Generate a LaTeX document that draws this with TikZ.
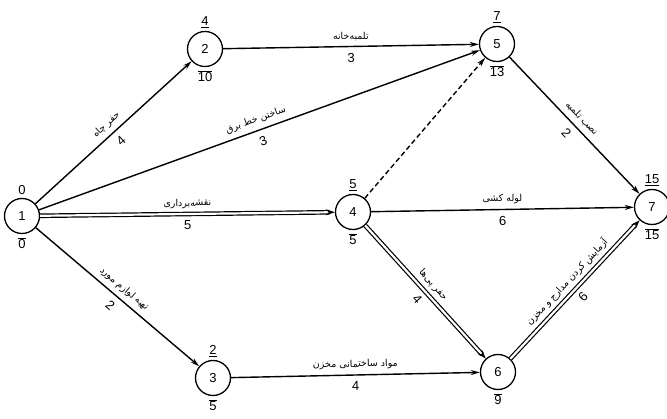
\documentclass[tikz,border=0pt]{standalone}
\usepackage{fontspec}
\setmainfont{Liberation Sans}
\newfontfamily\farsi[Script=Arabic]{DejaVu Sans}
\TeXXeTstate=1
\usetikzlibrary{arrows.meta, positioning}
\newcommand{\fa}[1]{{\farsi\beginR #1\endR}}
\newcommand{\late}[1]{$\overline{\mbox{#1}}$}

\begin{document}
\begin{tikzpicture}[
    x=1pt, y=-1pt,
    font=\fontsize{13}{15}\selectfont,
    event/.style={draw, circle, line width=1.3pt, minimum size=35pt, inner sep=0pt, fill=white},
    ar/.style={-{Stealth[length=9pt, width=5pt]}, line width=1.4pt},
    crit/.style={-{Stealth[length=9pt, width=6pt]}, double, double distance=2.2pt, line width=1.2pt},
    dummy/.style={ar, dash pattern=on 5pt off 3pt},
    act/.style={sloped, above, inner sep=5pt, font=\fontsize{9.5}{11}\selectfont},
    dur/.style={sloped, below, inner sep=6pt},
    tim/.style={inner sep=1pt}
]
\useasboundingbox[fill=white] (0,0) rectangle (667,419);
% events
\node[event] (n1) at (22,216)  {1};
\node[event] (n2) at (205,49)  {2};
\node[event] (n3) at (213,378) {3};
\node[event] (n4) at (353,212) {4};
\node[event] (n5) at (497,44)  {5};
\node[event] (n6) at (498,372) {6};
\node[event] (n7) at (652,207) {7};
% early / late times
\node[tim, above=2pt of n1] {0};             \node[tim, below=2pt of n1] {\late{0}};
\node[tim, above=2pt of n2] {\underline{4}};  \node[tim, below=2pt of n2] {\late{10}};
\node[tim, above=2pt of n3] {\underline{2}};  \node[tim, below=2pt of n3] {\late{5}};
\node[tim, above=2pt of n4] {\underline{5}};  \node[tim, below=2pt of n4] {\late{5}};
\node[tim, above=2pt of n5] {\underline{7}};  \node[tim, below=2pt of n5] {\late{13}};
\node[tim, below=2pt of n6] {\late{9}};
\node[tim, above=2pt of n7] {\underline{15}}; \node[tim, below=2pt of n7] {\late{15}};
% activities
\foreach \a/\b/\t/\d in {n1/n2/{حفر چاه}/4, n2/n5/{تلمبه‌خانه}/3,
      n1/n5/{ساختن خط برق}/3, n4/n7/{لوله کشی}/6, n5/n7/{نصب تلمبه}/2,
      n1/n3/{تهیه لوازم مورد}/2, n3/n6/{مواد ساختمانی مخزن}/4}
   \draw[ar] (\a) -- node[act] {\fa{\t}} node[dur] {\d} (\b);
% critical path
\foreach \a/\b/\t/\d in {n1/n4/{نقشه‌برداری}/5, n4/n6/{حفر پی‌ها}/4,
      n6/n7/{آزمایش کردن مدارج و مخزن}/6}
   \draw[crit] (\a) -- node[act] {\fa{\t}} node[dur] {\d} (\b);
% dummy
\draw[dummy] (n4) -- (n5);
\end{tikzpicture}
\end{document}
